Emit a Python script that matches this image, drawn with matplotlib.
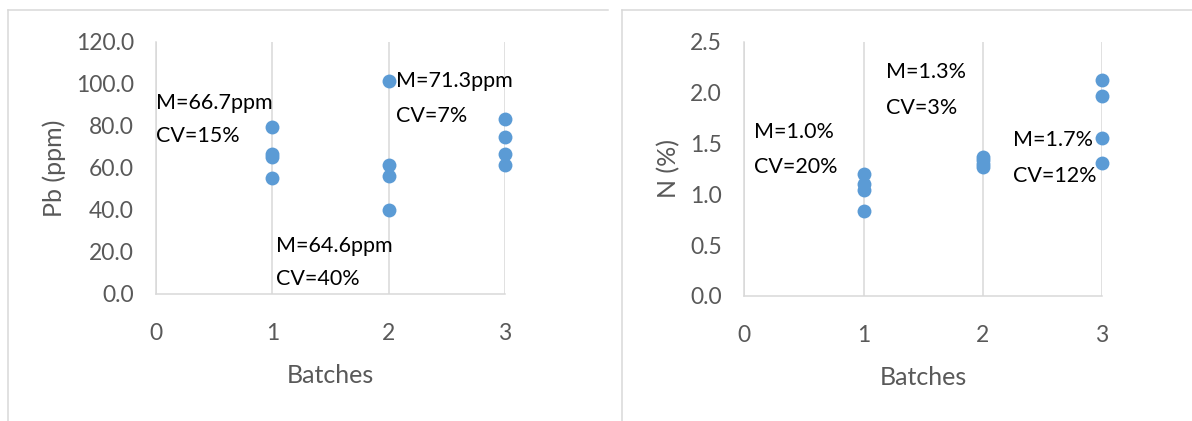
import matplotlib
matplotlib.use("Agg")
import matplotlib.pyplot as plt
from matplotlib.lines import Line2D

plt.rcParams['font.family'] = ['Lato', 'DejaVu Sans']

# ---- data ----
batches = [1, 2, 3]
pb_batch1 = [79.4, 66.7, 65.4, 55.2]
pb_batch2 = [101.6, 61.6, 56.3, 39.8]
pb_batch3 = [83.3, 74.6, 66.8, 61.3]
n_batch1 = [1.20, 1.10, 1.04, 0.84]
n_batch2 = [1.37, 1.34, 1.30, 1.27]
n_batch3 = [2.12, 1.97, 1.55, 1.31]

pb_labels = [("M=66.7ppm", "CV=15%"), ("M=64.6ppm", "CV=40%"), ("M=71.3ppm", "CV=7%")]
n_labels = [("M=1.0%", "CV=20%"), ("M=1.3%", "CV=3%"), ("M=1.7%", "CV=12%")]

x_ticks = [0, 1, 2, 3]
pb_yticks = [0, 20, 40, 60, 80, 100, 120]
n_yticks = [0.0, 0.5, 1.0, 1.5, 2.0, 2.5]

# label anchor positions (x, y line1, y line2) in data coords
pb_label_pos = [(0.0, 91, 75), (1.03, 23, 7), (2.06, 101.4, 84.8)]
n_label_pos = [(0.08, 1.61, 1.27), (1.19, 2.20, 1.85), (2.25, 1.53, 1.18)]

BLUE = '#5B9BD5'
GRID = '#D9D9D9'
TICK = '#595959'

W, H = 1192, 421
fig = plt.figure(figsize=(W / 100, H / 100), dpi=100)

# panel borders
def px_line(x0, y0, x1, y1):
    fig.add_artist(Line2D([x0 / W, x1 / W], [1 - y0 / H, 1 - y1 / H],
                          color=GRID, lw=1.1, transform=fig.transFigure))

px_line(8, 10, 608, 10)
px_line(8, 10, 8, 421)
px_line(622, 10, 1192, 10)
px_line(622, 10, 622, 421)

ax1 = fig.add_axes([156 / W, 1 - 294 / H, (505 - 156) / W, (294 - 42) / H])
ax2 = fig.add_axes([744.3 / W, 1 - 296 / H, (1102 - 744.3) / W, (296 - 41.7) / H])


def style(ax, yticks, fmt, ylabel):
    ax.set_xlim(0, 3)
    ax.set_ylim(yticks[0], yticks[-1])
    ax.set_xticks(x_ticks)
    ax.set_yticks(yticks)
    ax.set_yticklabels([fmt.format(v) for v in yticks])
    for s in ['top', 'right']:
        ax.spines[s].set_visible(False)
    for s in ['left', 'bottom']:
        ax.spines[s].set_color(GRID)
        ax.spines[s].set_linewidth(1.1)
    ax.grid(axis='x', color=GRID, lw=1.1)
    ax.set_axisbelow(True)
    ax.tick_params(length=0, labelsize=16.5, colors=TICK)
    ax.tick_params(axis='x', pad=21)
    ax.tick_params(axis='y', pad=16)
    ax.set_xlabel('Batches', fontsize=18, color=TICK, labelpad=14)
    ax.set_ylabel(ylabel, fontsize=18, color=TICK, labelpad=7)
    ax.patch.set_alpha(0)


style(ax1, pb_yticks, '{:.1f}', 'Pb (ppm)')
style(ax2, n_yticks, '{:.1f}', 'N (%)')

for b, vals in zip(batches, [pb_batch1, pb_batch2, pb_batch3]):
    ax1.scatter([b] * len(vals), vals, s=100, color=BLUE, zorder=3, clip_on=False, linewidths=0)
for b, vals in zip(batches, [n_batch1, n_batch2, n_batch3]):
    ax2.scatter([b] * len(vals), vals, s=100, color=BLUE, zorder=3, clip_on=False, linewidths=0)

for ax, labels, pos in [(ax1, pb_labels, pb_label_pos), (ax2, n_labels, n_label_pos)]:
    for (l1, l2), (x, y1, y2) in zip(labels, pos):
        ax.text(x, y1, l1, fontsize=15.5, color='black', ha='left', va='center', zorder=4)
        ax.text(x, y2, l2, fontsize=15.5, color='black', ha='left', va='center', zorder=4)

fig.savefig('out.png', dpi=100)
